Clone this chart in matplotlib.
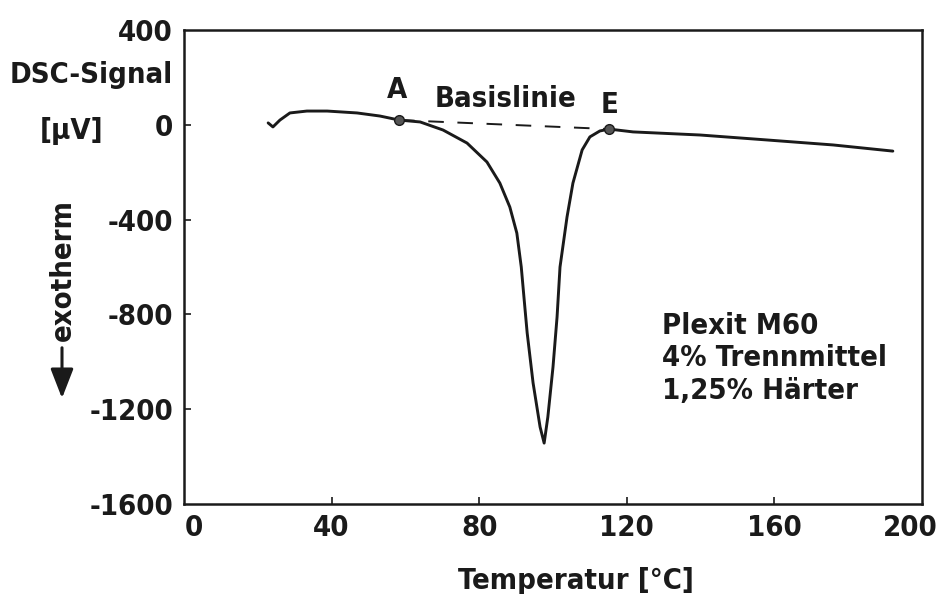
import matplotlib
matplotlib.use("Agg")
import matplotlib.pyplot as plt
import matplotlib.transforms as mtrans

# DSC curve (temperature in degC, signal in microvolt)
temp = [22.8, 24.1, 26.0, 28.7, 33.3, 38.8, 46.9, 53.1, 58.3, 64.0, 70.2,
        76.7, 82.1, 85.6, 88.3, 90.2, 91.4, 92.2, 93.0, 94.6, 96.5, 97.6,
        98.6, 100.0, 101.1, 101.9, 103.8, 105.4, 107.9, 110.0, 112.7, 115.2,
        121.7, 139.8, 158.0, 175.9, 192.1]
signal = [8, -9, 20, 50, 58, 58, 50, 37, 20, 12, -22,
          -77, -157, -246, -347, -457, -600, -740, -878, -1089, -1275, -1343,
          -1233, -1022, -811, -600, -389, -246, -106, -51, -26, -18,
          -30, -43, -64, -85, -111]

# baseline end points A and E
base_t = [58.3, 115.2]
base_s = [20, -18]
base_labels = ['A', 'E']

xticks = [0, 40, 80, 120, 160, 200]
yticks = [400, 0, -400, -800, -1200, -1600]
info = ['Plexit M60', '4% Trennmittel', '1,25% Härter']

plt.rcParams['font.family'] = ['DejaVu Sans']
plt.rcParams['font.stretch'] = 'condensed'
plt.rcParams['font.weight'] = 'bold'
plt.rcParams['axes.unicode_minus'] = False
fs = 21
ink = '#1a1a1a'

W, H = 950, 594
fig = plt.figure(figsize=(9.5, 5.94), dpi=100)
ax = fig.add_axes([184 / W, 1 - 504 / H, (922 - 184) / W, (504 - 30) / H])

ax.plot(temp, signal, color=ink, lw=2.1, solid_capstyle='round')
ax.plot(base_t, base_s, color=ink, lw=1.4, linestyle=(0, (8, 7)))
ax.plot(base_t, base_s, 'o', ms=7, color='#555555', mec=ink, mew=1.0)

ax.set_xlim(0, 200)
ax.set_ylim(-1600, 400)
ax.set_xticks(xticks)
ax.set_yticks(yticks)
ax.tick_params(direction='in', length=5, width=1.2, labelsize=fs, colors=ink)
ax.tick_params(axis='y', pad=8)
ax.tick_params(axis='x', pad=7)
for sp in ax.spines.values():
    sp.set_linewidth(1.8)
    sp.set_color(ink)

# hide ticks at the axis ends
for t in ax.xaxis.get_major_ticks()[0::5]:
    t.tick1line.set_visible(False)
for t in ax.yaxis.get_major_ticks()[0::5]:
    t.tick1line.set_visible(False)

# nudge end labels inwards like the original
xl = ax.get_xticklabels()
xl[0].set_transform(xl[0].get_transform() + mtrans.ScaledTranslation(10 / 100, 0, fig.dpi_scale_trans))
xl[-1].set_transform(xl[-1].get_transform() + mtrans.ScaledTranslation(-12 / 100, 0, fig.dpi_scale_trans))

# annotations
ax.text(base_t[0] - 0.5, 113, base_labels[0], fontsize=fs, ha='center', va='baseline', color=ink)
ax.text(base_t[1], 50, base_labels[1], fontsize=fs, ha='center', va='baseline', color=ink)
ax.text(87.0, 75, 'Basislinie', fontsize=fs, ha='center', va='baseline', color=ink)

ax.text(129.5, -790, '\n'.join(info), fontsize=fs, ha='left', va='top',
        linespacing=1.2, color=ink)

# axis titles placed by hand
fig.text(173 / W, 1 - 75 / H, 'DSC-Signal', fontsize=fs, ha='right', va='center', color=ink)
fig.text(72 / W, 1 - 131 / H, '[µV]', fontsize=fs, ha='center', va='center', color=ink)
fig.text(576 / W, 1 - 589 / H, 'Temperatur [°C]', fontsize=fs, ha='center', va='baseline', color=ink)
fig.text(63 / W, 1 - 270 / H, 'exotherm', fontsize=fs, rotation=90, ha='center', va='center', color=ink)
fig.add_artist(matplotlib.patches.FancyArrowPatch(
    (62 / W, 1 - 345 / H), (62 / W, 1 - 401 / H), transform=fig.transFigure,
    arrowstyle='-|>,head_length=0.9,head_width=0.35', mutation_scale=20,
    lw=2.2, color=ink))

fig.savefig('out.png', dpi=100)
